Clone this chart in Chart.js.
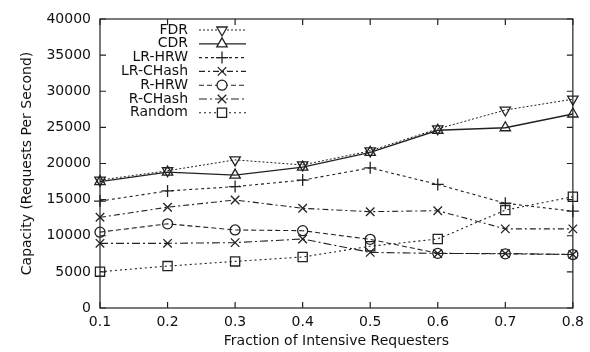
<!DOCTYPE html>
<html>
<head>
<meta charset="utf-8">
<script src="https://cdn.jsdelivr.net/npm/chart.js@4/dist/chart.umd.min.js"></script>
<style>
  html, body { margin: 0; padding: 0; background: #fff; }
  #wrap { width: 590px; height: 352px; position: relative; }
</style>
</head>
<body>
<div id="wrap"><canvas id="chart" width="590" height="352"></canvas></div>
<script>
const fractions = ['0.1', '0.2', '0.3', '0.4', '0.5', '0.6', '0.7', '0.8'];
const seriesNames = ['FDR', 'CDR', 'LR-HRW', 'LR-CHash', 'R-HRW', 'R-CHash', 'Random'];
const fdr      = [17700, 19000, 20500, 19800, 21750, 24800, 27400, 28900];
const cdr      = [17500, 18800, 18400, 19500, 21550, 24600, 24950, 26850];
const lrHrw    = [14800, 16200, 16800, 17700, 19400, 17100, 14500, 13400];
const lrChash  = [12550, 13950, 14950, 13800, 13330, 13470, 10950, 10950];
const rHrw     = [10500, 11650, 10800, 10700, 9500, 7570, 7500, 7400];
const rChash   = [8950, 8950, 9050, 9550, 7700, 7550, 7550, 7400];
const random   = [5030, 5800, 6450, 7060, 8550, 9550, 13550, 15400];
const yMin = 0, yMax = 40000, yStep = 5000;

const font = "'DejaVu Sans', 'Liberation Sans', Arial, sans-serif";
const fontSize = 14;
const ink = '#222';

const styles = [
  { dash: [2, 2], point: 'triangle', rot: 180, r: 6, w: 1 },
  { dash: [], point: 'triangle', rot: 0, r: 6, w: 1.3 },
  { dash: [3, 3], point: 'cross', rot: 0, r: 6, w: 1.1 },
  { dash: [6, 3, 2, 3], point: 'crossRot', rot: 0, r: 6, w: 1.1 },
  { dash: [5, 3], point: 'circle', rot: 0, r: 5, w: 1.1 },
  { dash: [8, 3, 2, 3], point: 'crossRot', rot: 0, r: 6, w: 1.1 },
  { dash: [2, 3], point: 'rect', rot: 0, r: 6.5, w: 1.1 }
];
const values = [fdr, cdr, lrHrw, lrChash, rHrw, rChash, random];

const datasets = seriesNames.map((name, i) => ({
  label: name,
  data: values[i],
  borderColor: ink,
  backgroundColor: 'transparent',
  borderWidth: styles[i].w,
  borderDash: styles[i].dash,
  pointStyle: styles[i].point,
  pointRotation: styles[i].rot,
  pointRadius: styles[i].r,
  pointBorderWidth: 1.3,
  pointBorderColor: ink,
  pointBackgroundColor: 'transparent',
  tension: 0
}));

// frame, inward ticks and the in-plot legend
const framePlugin = {
  id: 'frame',
  afterDatasetsDraw(chart) {
    const { ctx, chartArea: a, scales } = chart;
    ctx.save();
    ctx.strokeStyle = ink;
    ctx.lineWidth = 1.2;
    ctx.setLineDash([]);
    ctx.strokeRect(a.left, a.top, a.right - a.left, a.bottom - a.top);
    const t = 6;
    ctx.beginPath();
    for (let v = yMin; v <= yMax; v += yStep) {
      const y = scales.y.getPixelForValue(v);
      ctx.moveTo(a.left, y); ctx.lineTo(a.left + t, y);
      ctx.moveTo(a.right, y); ctx.lineTo(a.right - t, y);
    }
    fractions.forEach((f, i) => {
      const x = scales.x.getPixelForValue(i);
      ctx.moveTo(x, a.bottom); ctx.lineTo(x, a.bottom - t);
      ctx.moveTo(x, a.top); ctx.lineTo(x, a.top + t);
    });
    ctx.stroke();

    // legend
    const textRight = 188, lineL = 199, lineR = 246, markX = 222;
    ctx.font = fontSize + 'px ' + font;
    ctx.textAlign = 'right';
    ctx.textBaseline = 'middle';
    chart.data.datasets.forEach((ds, i) => {
      const y = 30 + i * 13.8;
      ctx.fillStyle = '#111';
      ctx.fillText(ds.label, textRight, y);
      ctx.strokeStyle = ink;
      ctx.lineWidth = ds.borderWidth;
      ctx.setLineDash(ds.borderDash);
      ctx.beginPath();
      ctx.moveTo(lineL, y); ctx.lineTo(lineR, y);
      ctx.stroke();
      ctx.setLineDash([]);
      ctx.lineWidth = ds.pointBorderWidth;
      ctx.fillStyle = '#fff';
      Chart.helpers.drawPoint(ctx, {
        pointStyle: ds.pointStyle,
        rotation: ds.pointRotation,
        radius: ds.pointRadius,
        borderWidth: ds.pointBorderWidth
      }, markX, y);
    });
    ctx.restore();
  }
};

new Chart(document.getElementById('chart'), {
  type: 'line',
  data: { labels: fractions, datasets },
  options: {
    responsive: false,
    animation: false,
    layout: { padding: { top: 19, right: 16, left: 0, bottom: 0 } },
    plugins: { legend: { display: false }, tooltip: { enabled: false } },
    scales: {
      x: {
        type: 'category',
        offset: false,
        grid: { display: false, drawTicks: false },
        border: { display: false },
        ticks: { color: '#111', font: { family: font, size: fontSize }, padding: 6, maxRotation: 0 },
        title: { display: true, text: 'Fraction of Intensive Requesters', color: '#111',
                 font: { family: font, size: fontSize }, padding: { top: 0, bottom: 2 } },
        afterFit: s => { s.height = 44; }
      },
      y: {
        min: yMin,
        max: yMax,
        grid: { display: false, drawTicks: false },
        border: { display: false },
        ticks: { stepSize: yStep, color: '#111', font: { family: font, size: fontSize }, padding: 9,
                 callback: v => String(v) },
        title: { display: true, text: 'Capacity (Requests Per Second)', color: '#111',
                 font: { family: font, size: fontSize }, padding: { top: 19, bottom: 0 } },
        afterFit: s => { s.width = 100; }
      }
    }
  },
  plugins: [framePlugin]
});
</script>
</body>
</html>
